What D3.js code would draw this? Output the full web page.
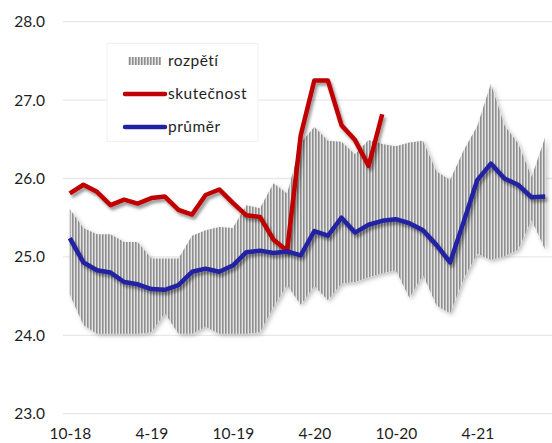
<!DOCTYPE html>
<html>
<head>
<meta charset="utf-8">
<script src="https://cdn.jsdelivr.net/npm/d3@7/dist/d3.min.js"></script>
<style>
  html, body { margin: 0; padding: 0; background: #ffffff; }
  svg { display: block; }
  text { font-family: Lato, "Open Sans", sans-serif; fill: #1e1e1e; }
</style>
</head>
<body>
<svg id="chart" width="552" height="443"></svg>
<script>
// Monthly categories, 10-18 … 9-21
const months = [
  "10-18","11-18","12-18","1-19","2-19","3-19","4-19","5-19","6-19","7-19","8-19","9-19",
  "10-19","11-19","12-19","1-20","2-20","3-20","4-20","5-20","6-20","7-20","8-20","9-20",
  "10-20","11-20","12-20","1-21","2-21","3-21","4-21","5-21","6-21","7-21","8-21","9-21"
];
const xTickLabels = ["10-18","4-19","10-19","4-20","10-20","4-21"];
const yTicks = [23, 24, 25, 26, 27, 28];

// rozpětí – range of forecasts (lower and upper bound)
const rangeLow = [
  24.52, 24.13, 24.02, 24.02, 24.02, 24.02, 24.04, 24.28, 24.02, 24.02, 24.11, 24.02,
  24.02, 24.02, 24.04, 24.36, 24.64, 24.39, 24.63, 24.45, 24.66, 24.68, 24.74, 24.79,
  24.83, 24.48, 24.77, 24.38, 24.28, 24.72, 25.04, 24.96, 25.01, 25.09, 25.47, 25.09
];
const rangeHigh = [
  25.61, 25.37, 25.29, 25.29, 25.19, 25.19, 24.98, 24.98, 24.98, 25.27, 25.34, 25.38,
  25.37, 25.66, 25.62, 25.94, 25.81, 26.45, 26.66, 26.48, 26.47, 26.31, 26.49, 26.44,
  26.41, 26.46, 26.48, 26.09, 25.98, 26.36, 26.67, 27.21, 26.68, 26.45, 26.02, 26.53
];
// skutečnost – actual values
const actual = [
  25.81, 25.92, 25.83, 25.66, 25.73, 25.68, 25.75, 25.77, 25.60, 25.54, 25.79, 25.86,
  25.69, 25.53, 25.51, 25.22, 25.08, 26.55, 27.25, 27.25, 26.68, 26.49, 26.16, 26.82
];
// průměr – mean of forecasts
const mean = [
  25.24, 24.93, 24.83, 24.80, 24.68, 24.65, 24.59, 24.58, 24.64, 24.81, 24.85, 24.81,
  24.89, 25.06, 25.08, 25.05, 25.07, 25.02, 25.33, 25.27, 25.50, 25.31, 25.41, 25.46,
  25.48, 25.43, 25.34, 25.15, 24.93, 25.45, 25.98, 26.19, 26.00, 25.92, 25.76, 25.77
];

const legendItems = ["rozpětí", "skutečnost", "průměr"];

const svg = d3.select("#chart");
const plot = { left: 63, right: 552, top: 21.7, bottom: 413.7 };

const x = d3.scalePoint().domain(months).range([plot.left, plot.right]).padding(0.5);
const y = d3.scaleLinear().domain([23, 28]).range([plot.bottom, plot.top]);

const defs = svg.append("defs");
const hatch = defs.append("pattern")
  .attr("id", "vhatch").attr("patternUnits", "userSpaceOnUse")
  .attr("width", 3).attr("height", 4);
hatch.append("rect").attr("width", 3).attr("height", 4).attr("fill", "#e4e4e4");
hatch.append("rect").attr("width", 1.6).attr("height", 4).attr("fill", "#8f8f8f");

const lineShadow = defs.append("filter").attr("id", "lineShadow")
  .attr("x", "-10%").attr("y", "-10%").attr("width", "130%").attr("height", "130%");
lineShadow.append("feDropShadow").attr("dx", 2).attr("dy", 3)
  .attr("stdDeviation", 1.6).attr("flood-color", "#000").attr("flood-opacity", 0.4);

const bandShadow = defs.append("filter").attr("id", "bandShadow")
  .attr("x", "-10%").attr("y", "-10%").attr("width", "130%").attr("height", "130%");
bandShadow.append("feDropShadow").attr("dx", 2).attr("dy", 2)
  .attr("stdDeviation", 2).attr("flood-color", "#000").attr("flood-opacity", 0.25);

// horizontal gridlines
svg.append("g").selectAll("line").data(yTicks).join("line")
  .attr("x1", plot.left).attr("x2", plot.right)
  .attr("y1", d => y(d)).attr("y2", d => y(d))
  .attr("stroke", "#e8e8e8").attr("stroke-width", 1.3);

// y axis labels
const yAxis = d3.axisLeft(y).tickValues(yTicks).tickFormat(d3.format(".1f"))
  .tickSize(0).tickPadding(18);
svg.append("g").attr("transform", `translate(${plot.left},0)`).call(yAxis)
  .call(g => g.select(".domain").remove())
  .selectAll("text").style("font-size", "15.5px").style("font-family", "Lato, sans-serif")
  .attr("fill", "#1a1a1a");

// x axis labels
const xAxis = d3.axisBottom(x).tickValues(xTickLabels).tickSize(0).tickPadding(14);
svg.append("g").attr("transform", `translate(0,${plot.bottom})`).call(xAxis)
  .call(g => g.select(".domain").remove())
  .selectAll("text").style("font-size", "15.5px").style("font-family", "Lato, sans-serif")
  .attr("fill", "#1a1a1a");

// forecast range band
const idx = d3.range(months.length);
const area = d3.area()
  .x(i => x(months[i]))
  .y0(i => y(rangeLow[i]))
  .y1(i => y(rangeHigh[i]));
svg.append("path").datum(idx).attr("d", area)
  .attr("fill", "url(#vhatch)").attr("filter", "url(#bandShadow)");

// lines
const line = d3.line().x((d, i) => x(months[i])).y(d => y(d));
svg.append("path").datum(actual).attr("d", line)
  .attr("fill", "none").attr("stroke", "#c00000").attr("stroke-width", 4.5)
  .attr("stroke-linejoin", "round").attr("filter", "url(#lineShadow)");
svg.append("path").datum(mean).attr("d", line)
  .attr("fill", "none").attr("stroke", "#2121a3").attr("stroke-width", 4.5)
  .attr("stroke-linejoin", "round").attr("filter", "url(#lineShadow)");

// legend
const lg = svg.append("g");
lg.append("rect").attr("x", 107).attr("y", 43.5).attr("width", 151).attr("height", 98)
  .attr("fill", "#ffffff").attr("stroke", "#f1f1f1").attr("stroke-width", 1);
const rowY = [61, 94, 127];
lg.append("rect").attr("x", 128).attr("y", rowY[0] - 4).attr("width", 33).attr("height", 8)
  .attr("fill", "url(#vhatch)");
lg.append("line").attr("x1", 125).attr("x2", 165).attr("y1", rowY[1]).attr("y2", rowY[1])
  .attr("stroke", "#c00000").attr("stroke-width", 4.5).attr("stroke-linecap", "round");
lg.append("line").attr("x1", 125).attr("x2", 165).attr("y1", rowY[2]).attr("y2", rowY[2])
  .attr("stroke", "#2121a3").attr("stroke-width", 4.5).attr("stroke-linecap", "round");
lg.selectAll("text.lt").data(legendItems).join("text").attr("class", "lt")
  .attr("x", 168).attr("y", (d, i) => rowY[i] + 5)
  .style("font-size", "15.5px").style("letter-spacing", "0.5px")
  .text(d => d);
</script>
</body>
</html>
